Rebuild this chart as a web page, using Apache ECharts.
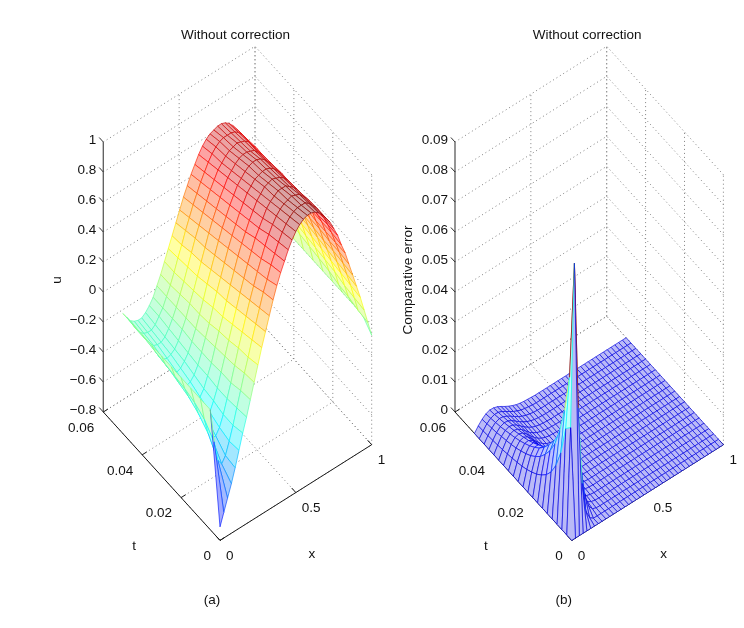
<!DOCTYPE html>
<html>
<head>
<meta charset="utf-8">
<script src="https://cdn.jsdelivr.net/npm/echarts@6/dist/echarts.min.js"></script>
<style>html,body{margin:0;padding:0;background:#fff}#c{width:744px;height:628px}</style>
</head>
<body>
<div id="c"></div>
<script>
// ---------------- data ----------------
const xGrid = [0,0.025,0.05,0.075,0.1,0.125,0.15,0.175,0.2,0.225,0.25,0.275,0.3,0.325,0.35,0.375,0.4,0.425,0.45,0.475,0.5,0.525,0.55,0.575,0.6,0.625,0.65,0.675,0.7,0.725,0.75,0.775,0.8,0.825,0.85,0.875,0.9,0.925,0.95,0.975,1];
const tGridA = [0,0.005,0.01,0.015,0.02,0.025,0.03,0.035,0.04,0.045,0.05];
const tGridB = [0,0.0025,0.005,0.0075,0.01,0.0125,0.015,0.0175,0.02,0.0225,0.025,0.0275,0.03,0.0325,0.035,0.0375,0.04,0.0425,0.045,0.0475,0.05];

// u(x,t): one row per t in tGridA, one value per x in xGrid
const uRows = [
 [-0.71,-0.63,-0.55,-0.47,-0.38,-0.28,-0.18,-0.09,0.01,0.11, 0.21,0.31,0.40,0.49,0.58,0.66,0.73,0.79,0.85,0.90, 0.94,0.97,0.99,1.00,1.00,0.99,0.97,0.94,0.90,0.86, 0.80,0.74,0.66,0.59,0.50,0.41,0.32,0.23,0.13,0.03, -0.07],
 [0,-0.23,-0.37,-0.41,-0.37,-0.29,-0.20,-0.10,0.00,0.10, 0.19,0.29,0.38,0.47,0.56,0.63,0.71,0.77,0.83,0.88, 0.92,0.95,0.97,0.98,0.98,0.98,0.96,0.93,0.90,0.85, 0.80,0.74,0.67,0.59,0.51,0.42,0.33,0.24,0.14,0.04, 0],
 [0,-0.15,-0.26,-0.31,-0.31,-0.27,-0.20,-0.11,-0.02,0.08, 0.18,0.27,0.36,0.45,0.53,0.61,0.68,0.75,0.81,0.86, 0.90,0.93,0.95,0.96,0.97,0.96,0.95,0.92,0.89,0.85, 0.79,0.73,0.67,0.59,0.51,0.43,0.34,0.25,0.15,0.06, 0],
 [0,-0.11,-0.20,-0.25,-0.26,-0.24,-0.18,-0.11,-0.02,0.07, 0.16,0.25,0.34,0.43,0.51,0.59,0.66,0.73,0.78,0.83, 0.88,0.91,0.93,0.95,0.95,0.95,0.93,0.91,0.88,0.84, 0.79,0.73,0.67,0.59,0.52,0.43,0.35,0.26,0.17,0.07, 0],
 [0,-0.09,-0.16,-0.21,-0.22,-0.21,-0.17,-0.10,-0.03,0.06, 0.15,0.23,0.32,0.41,0.49,0.57,0.64,0.70,0.76,0.81, 0.86,0.89,0.92,0.93,0.94,0.93,0.92,0.90,0.87,0.83, 0.79,0.73,0.67,0.60,0.52,0.44,0.36,0.27,0.18,0.09, 0],
 [0,-0.08,-0.14,-0.18,-0.19,-0.18,-0.15,-0.10,-0.03,0.05, 0.13,0.22,0.31,0.39,0.47,0.55,0.62,0.68,0.74,0.79, 0.84,0.87,0.90,0.91,0.92,0.92,0.91,0.89,0.86,0.83, 0.78,0.73,0.67,0.60,0.53,0.45,0.37,0.28,0.19,0.10, 0],
 [0,-0.07,-0.12,-0.15,-0.17,-0.16,-0.13,-0.09,-0.03,0.04, 0.12,0.20,0.29,0.37,0.45,0.53,0.60,0.66,0.72,0.77, 0.82,0.85,0.88,0.90,0.91,0.91,0.90,0.88,0.85,0.82, 0.78,0.72,0.67,0.60,0.53,0.45,0.37,0.29,0.20,0.11, 0],
 [0,-0.06,-0.11,-0.14,-0.15,-0.14,-0.12,-0.08,-0.02,0.04, 0.12,0.19,0.27,0.35,0.43,0.51,0.58,0.64,0.70,0.75, 0.80,0.83,0.86,0.88,0.89,0.89,0.88,0.87,0.84,0.81, 0.77,0.72,0.66,0.60,0.53,0.46,0.38,0.30,0.21,0.12, 0],
 [0,-0.05,-0.09,-0.12,-0.13,-0.13,-0.11,-0.07,-0.02,0.04, 0.11,0.18,0.26,0.34,0.42,0.49,0.56,0.62,0.68,0.73, 0.78,0.81,0.84,0.86,0.87,0.88,0.87,0.86,0.84,0.80, 0.77,0.72,0.66,0.60,0.53,0.46,0.39,0.31,0.22,0.14, 0],
 [0,-0.05,-0.09,-0.11,-0.12,-0.12,-0.10,-0.06,-0.02,0.04, 0.10,0.17,0.25,0.32,0.40,0.47,0.54,0.60,0.66,0.71, 0.76,0.80,0.83,0.85,0.86,0.86,0.86,0.85,0.83,0.80, 0.76,0.71,0.66,0.60,0.54,0.47,0.39,0.31,0.23,0.15, 0],
 [0,-0.04,-0.08,-0.10,-0.11,-0.11,-0.09,-0.06,-0.02,0.04, 0.10,0.17,0.24,0.31,0.38,0.45,0.52,0.58,0.64,0.69, 0.74,0.78,0.81,0.83,0.84,0.85,0.85,0.84,0.82,0.79, 0.75,0.71,0.66,0.60,0.54,0.47,0.40,0.32,0.24,0.16, 0]
];

// comparative error e(x,t): one row per t in tGridB, one value per x in xGrid
const errRows = [
 [0,0,0,0,0,0,0,0,0,0,0,0,0,0,0,0, 0,0,0,0,0,0,0,0,0,0,0,0,0,0,0,0,0,0,0,0,0,0,0,0,0],
 [0,0.035,0.089,0.040,0.014,0.004,0.001,0,0,0,0,0,0,0,0,0, 0,0,0,0,0,0,0,0,0,0,0,0,0,0,0,0,0,0,0,0,0,0,0,0,0],
 [0,0.0329,0.0492,0.0457,0.0312,0.0164,0.0068,0.0023,0.0006,0.0001,0,0,0,0,0,0, 0,0,0,0,0,0,0,0,0,0,0,0,0,0,0,0,0,0,0,0,0,0,0,0,0],
 [0,0.0231,0.0364,0.0366,0.0279,0.0170,0.0085,0.0035,0.0012,0.0004,0.0001,0,0,0,0,0, 0,0,0,0,0,0,0,0,0,0,0,0,0,0,0,0,0,0,0,0,0,0,0,0,0],
 [0,0.0171,0.0279,0.0296,0.0244,0.0164,0.0092,0.0044,0.0018,0.0006,0.0002,0,0,0,0,0, 0,0,0,0,0,0,0,0,0,0,0,0,0,0,0,0,0,0,0,0,0,0,0,0,0],
 [0,0.0131,0.0217,0.0239,0.0208,0.0150,0.0091,0.0048,0.0022,0.0009,0.0003,0.0001,0,0,0,0, 0,0,0,0,0,0,0,0,0,0,0,0,0,0,0,0,0,0,0,0,0,0,0,0,0],
 [0,0.0104,0.0176,0.0200,0.0181,0.0137,0.0089,0.0050,0.0025,0.0011,0.0004,0.0002,0,0,0,0, 0,0,0,0,0,0,0,0,0,0,0,0,0,0,0,0,0,0,0,0,0,0,0,0,0],
 [0,0.0085,0.0146,0.0170,0.0158,0.0125,0.0086,0.0052,0.0027,0.0013,0.0006,0.0002,0.0001,0,0,0, 0,0,0,0,0,0,0,0,0,0,0,0,0,0,0,0,0,0,0,0,0,0,0,0,0],
 [0,0.0070,0.0121,0.0144,0.0139,0.0113,0.0081,0.0051,0.0029,0.0015,0.0007,0.0003,0.0001,0,0,0, 0,0,0,0,0,0,0,0,0,0,0,0,0,0,0,0,0,0,0,0,0,0,0,0,0],
 [0,0.0059,0.0103,0.0123,0.0121,0.0102,0.0076,0.0050,0.0029,0.0016,0.0008,0.0003,0.0001,0,0,0, 0,0,0,0,0,0,0,0,0,0,0,0,0,0,0,0,0,0,0,0,0,0,0,0,0],
 [0,0.0050,0.0088,0.0108,0.0108,0.0093,0.0071,0.0049,0.0030,0.0017,0.0009,0.0004,0.0002,0.0001,0,0, 0,0,0,0,0,0,0,0,0,0,0,0,0,0,0,0,0,0,0,0,0,0,0,0,0],
 [0,0.0043,0.0077,0.0095,0.0097,0.0085,0.0067,0.0047,0.0030,0.0018,0.0010,0.0005,0.0002,0.0001,0,0, 0,0,0,0,0,0,0,0,0,0,0,0,0,0,0,0,0,0,0,0,0,0,0,0,0],
 [0,0.0038,0.0068,0.0085,0.0087,0.0079,0.0063,0.0046,0.0030,0.0018,0.0010,0.0005,0.0002,0.0001,0,0, 0,0,0,0,0,0,0,0,0,0,0,0,0,0,0,0,0,0,0,0,0,0,0,0,0],
 [0,0.0034,0.0060,0.0076,0.0080,0.0073,0.0060,0.0044,0.0030,0.0019,0.0011,0.0006,0.0003,0.0001,0,0, 0,0,0,0,0,0,0,0,0,0,0,0,0,0,0,0,0,0,0,0,0,0,0,0,0],
 [0,0.0030,0.0054,0.0069,0.0073,0.0068,0.0057,0.0043,0.0030,0.0019,0.0011,0.0006,0.0003,0.0002,0.0001,0, 0,0,0,0,0,0,0,0,0,0,0,0,0,0,0,0,0,0,0,0,0,0,0,0,0],
 [0,0.0027,0.0049,0.0063,0.0067,0.0063,0.0054,0.0042,0.0029,0.0019,0.0012,0.0007,0.0004,0.0002,0.0001,0, 0,0,0,0,0,0,0,0,0,0,0,0,0,0,0,0,0,0,0,0,0,0,0,0,0],
 [0,0.0024,0.0045,0.0057,0.0062,0.0059,0.0051,0.0040,0.0029,0.0020,0.0012,0.0007,0.0004,0.0002,0.0001,0, 0,0,0,0,0,0,0,0,0,0,0,0,0,0,0,0,0,0,0,0,0,0,0,0,0],
 [0,0.0022,0.0040,0.0052,0.0057,0.0055,0.0048,0.0038,0.0029,0.0020,0.0013,0.0008,0.0004,0.0002,0.0001,0, 0,0,0,0,0,0,0,0,0,0,0,0,0,0,0,0,0,0,0,0,0,0,0,0,0],
 [0,0.0020,0.0037,0.0048,0.0053,0.0051,0.0045,0.0037,0.0028,0.0020,0.0013,0.0008,0.0005,0.0002,0.0001,0, 0,0,0,0,0,0,0,0,0,0,0,0,0,0,0,0,0,0,0,0,0,0,0,0,0],
 [0,0.0018,0.0034,0.0044,0.0049,0.0048,0.0043,0.0035,0.0027,0.0019,0.0013,0.0008,0.0005,0.0003,0.0001,0, 0,0,0,0,0,0,0,0,0,0,0,0,0,0,0,0,0,0,0,0,0,0,0,0,0],
 [0,0.0017,0.0031,0.0041,0.0046,0.0045,0.0041,0.0034,0.0026,0.0019,0.0013,0.0008,0.0005,0.0003,0.0002,0.0001, 0,0,0,0,0,0,0,0,0,0,0,0,0,0,0,0,0,0,0,0,0,0,0,0,0]
];

// tick values and labels
const xTicks = [0, 0.5, 1];
const xTickLabels = ['0', '0.5', '1'];
const tTicks = [0, 0.02, 0.04, 0.06];
const tTickLabels = ['0', '0.02', '0.04', '0.06'];
const uTicks = [-0.8, -0.6, -0.4, -0.2, 0, 0.2, 0.4, 0.6, 0.8, 1];
const uTickLabels = ['\u22120.8', '\u22120.6', '\u22120.4', '\u22120.2', '0', '0.2', '0.4', '0.6', '0.8', '1'];
const eTicks = [0, 0.01, 0.02, 0.03, 0.04, 0.05, 0.06, 0.07, 0.08, 0.09];
const eTickLabels = ['0', '0.01', '0.02', '0.03', '0.04', '0.05', '0.06', '0.07', '0.08', '0.09'];

// ---------------- view (projection of the 3-D box) ----------------
const W = 744, H = 628;
const FONT = '13.5px "Liberation Sans", Arial, Helvetica, sans-serif';
const VX = [151.7, -95.7];   // screen vector of the whole x range
const VT = [-116.7, -128.4]; // screen vector of the whole t range
const VZ = 270;              // screen height of the whole vertical range
const XR = [0, 1], TR = [0, 0.06];
const LINE_W = 0.65;

const panels = [
  { ox: 220, oy: 540.4, ts: tGridA, zs: uRows, zr: [-0.8, 1], zTicks: uTicks, zTickLabels: uTickLabels,
    clim: [-1, 1], fillAlpha: 0.36, zName: 'u', title: 'Without correction', cap: '(a)' },
  { ox: 571.7, oy: 540.4, ts: tGridB, zs: errRows, zr: [0, 0.09], zTicks: eTicks, zTickLabels: eTickLabels,
    clim: [0, 0.089], fillAlpha: 0.27, zName: 'Comparative error', title: 'Without correction', cap: '(b)' }
];

function proj(p, x, t, z) {
  const xn = (x - XR[0]) / (XR[1] - XR[0]);
  const tn = (t - TR[0]) / (TR[1] - TR[0]);
  const zn = (z - p.zr[0]) / (p.zr[1] - p.zr[0]);
  return [p.ox + VX[0] * xn + VT[0] * tn, p.oy + VX[1] * xn + VT[1] * tn - VZ * zn];
}

function jet(v) {
  v = Math.max(0, Math.min(1, v));
  const f = a => Math.max(0, Math.min(1, a));
  let r = f(1.5 - Math.abs(4 * v - 3));
  let g = f(1.5 - Math.abs(4 * v - 2));
  let b = f(1.5 - Math.abs(4 * v - 1));
  if (v < 0.375) b = Math.max(b, 0.88);
  return [r, g, b];
}
const rgb = c => 'rgb(' + c.map(q => Math.round(q * 255)).join(',') + ')';
const tint = (c, a) => c.map(q => 1 - (1 - q) * a);

function quadList(p) {
  const list = [];
  for (let j = 0; j < p.ts.length - 1; j++) {
    for (let i = 0; i < xGrid.length - 1; i++) {
      const xc = (xGrid[i] + xGrid[i + 1]) / 2, tc = (p.ts[j] + p.ts[j + 1]) / 2;
      const depth = -VX[1] * (xc - XR[0]) / (XR[1] - XR[0]) - VT[1] * (tc - TR[0]) / (TR[1] - TR[0]);
      list.push([i, j, depth]);
    }
  }
  list.sort((a, b) => b[2] - a[2]);
  return list;
}

function surfaceSeries(p, z) {
  return {
    type: 'custom', coordinateSystem: 'cartesian2d', silent: true, clip: false, z: z,
    animation: false,
    data: quadList(p),
    renderItem: function (params, api) {
      const i = api.value(0), j = api.value(1);
      const Z = p.zs;
      if (!Z[j] || !Z[j + 1] || Z[j][i + 1] === undefined || Z[j + 1][i + 1] === undefined) return null;
      const pt = (ii, jj) => api.coord(proj(p, xGrid[ii], p.ts[jj], Z[jj][ii]));
      const col = (ii, jj) => jet((Z[jj][ii] - p.clim[0]) / (p.clim[1] - p.clim[0]));
      const a = pt(i, j), b = pt(i + 1, j), c = pt(i + 1, j + 1), d = pt(i, j + 1);
      const c00 = col(i, j);
      const ln = (p1, p2, cc) => ({ type: 'line', shape: { x1: p1[0], y1: p1[1], x2: p2[0], y2: p2[1] },
        style: { stroke: rgb(cc), lineWidth: LINE_W } });
      return { type: 'group', children: [
        { type: 'polygon', shape: { points: [a, b, c, d] }, style: { fill: rgb(tint(c00, p.fillAlpha)), stroke: null } },
        ln(a, b, c00), ln(a, d, c00), ln(d, c, col(i, j + 1)), ln(b, c, col(i + 1, j))
      ] };
    }
  };
}

function frameSeries(p, z) {
  return {
    type: 'custom', coordinateSystem: 'cartesian2d', silent: true, clip: false, z: z,
    animation: false,
    data: [[0, 0]],
    renderItem: function (params, api) {
      const P = (x, t, zz) => api.coord(proj(p, x, t, zz));
      const zmin = p.zr[0], zmax = p.zr[1];
      const ch = [];
      const dotted = (a, b) => ch.push({ type: 'line', shape: { x1: a[0], y1: a[1], x2: b[0], y2: b[1] },
        style: { stroke: '#808080', lineWidth: 1, lineDash: [1, 3] } });
      const solid = (a, b, col, w) => ch.push({ type: 'line', shape: { x1: a[0], y1: a[1], x2: b[0], y2: b[1] },
        style: { stroke: col || '#1a1a1a', lineWidth: w || 1 } });
      const text = (s, x, y, align, extra) => ch.push(Object.assign({ type: 'text', x: x, y: y,
        style: { text: s, font: FONT, fill: '#111', align: align || 'center', verticalAlign: 'middle' } }, extra || {}));

      // back wall t = tmax
      p.zTicks.forEach(v => dotted(P(XR[0], TR[1], v), P(XR[1], TR[1], v)));
      xTicks.forEach(v => { if (v !== XR[0]) dotted(P(v, TR[1], zmin), P(v, TR[1], zmax)); });
      // back wall x = xmax
      p.zTicks.forEach(v => dotted(P(XR[1], TR[0], v), P(XR[1], TR[1], v)));
      tTicks.forEach(v => dotted(P(XR[1], v, zmin), P(XR[1], v, zmax)));
      // floor
      xTicks.forEach(v => dotted(P(v, TR[0], zmin), P(v, TR[1], zmin)));
      tTicks.forEach(v => dotted(P(XR[0], v, zmin), P(XR[1], v, zmin)));

      // axes
      solid(P(XR[0], TR[0], zmin), P(XR[1], TR[0], zmin));
      solid(P(XR[0], TR[0], zmin), P(XR[0], TR[1], zmin));
      solid(P(XR[0], TR[1], zmin), P(XR[0], TR[1], zmax), '#5a5a5a', 1.3);

      // ticks and tick labels
      xTicks.forEach((v, k) => {
        const a = P(v, TR[0], zmin), b = P(v, TR[0] + 0.035 * (TR[1] - TR[0]), zmin);
        solid(a, b);
        text(xTickLabels[k], a[0] + 6, a[1] + 16, 'left');
      });
      tTicks.forEach((v, k) => {
        const a = P(XR[0], v, zmin), b = P(XR[0] + 0.03, v, zmin);
        solid(a, b);
        text(tTickLabels[k], a[0] - 9, a[1] + 16, 'right');
      });
      p.zTicks.forEach((v, k) => {
        const a = P(XR[0], TR[1], v), b = P(XR[0], TR[1] + 0.035 * (TR[1] - TR[0]), v);
        solid(a, b, '#333');
        text(p.zTickLabels[k], a[0] - 7, a[1] - 2, 'right');
      });

      // axis names
      const tm = P(XR[0], (TR[0] + TR[1]) / 2, zmin);
      text('t', tm[0] - 27.5, tm[1] + 70);
      const xm = P((XR[0] + XR[1]) / 2, TR[0], zmin);
      text('x', xm[0] + 16, xm[1] + 61.5);
      const zm = P(XR[0], TR[1], (zmin + zmax) / 2);
      text(p.zName, zm[0] - 46.5, zm[1] + 3, 'center', { rotation: Math.PI / 2 });

      // title and caption
      const o = P(XR[0], TR[0], zmin);
      text(p.title, o[0] + 15.5, 35.5);
      text(p.cap, o[0] - 8, 600);
      return { type: 'group', children: ch };
    }
  };
}

const chart = echarts.init(document.getElementById('c'), null, { renderer: 'canvas', width: W, height: H });
chart.setOption({
  animation: false,
  backgroundColor: '#ffffff',
  grid: { left: 0, right: 0, top: 0, bottom: 0 },
  xAxis: { type: 'value', min: 0, max: W, show: false },
  yAxis: { type: 'value', min: 0, max: H, inverse: true, show: false },
  series: [
    frameSeries(panels[0], 1), surfaceSeries(panels[0], 2),
    frameSeries(panels[1], 1), surfaceSeries(panels[1], 2)
  ]
});
</script>
</body>
</html>
